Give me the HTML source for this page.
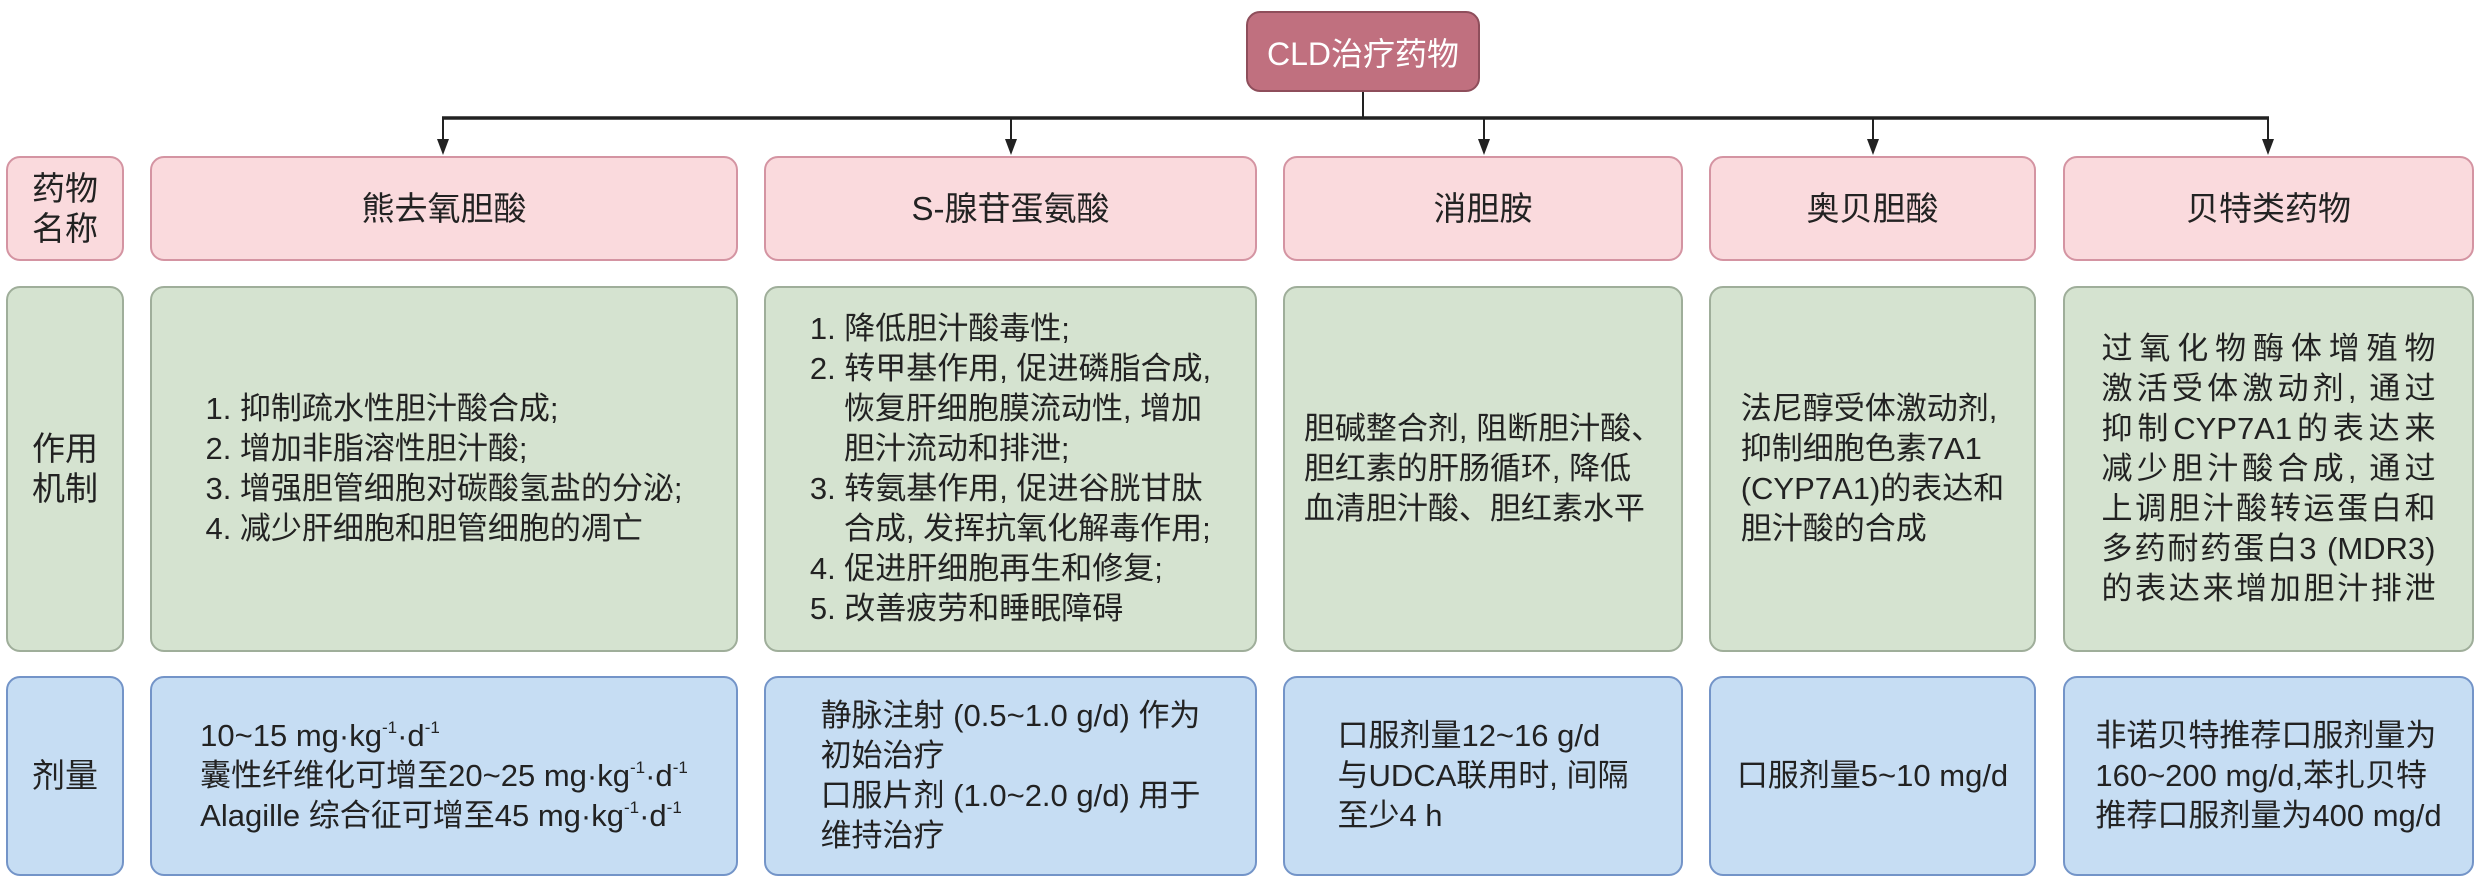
<!DOCTYPE html>
<html><head><meta charset="utf-8"><style>
body{margin:0;width:2481px;height:886px;background:#fff;position:relative;overflow:hidden;font-family:"Liberation Sans","Noto Sans CJK SC",sans-serif;color:#222;}
.b{position:absolute;box-sizing:border-box;border-radius:14px;border:2px solid;display:flex;align-items:center;justify-content:center;}
.p{background:#fadadd;border-color:#d494a2;}
.g{background:#d5e3d0;border-color:#9fae9a;}
.u{background:#c6ddf3;border-color:#7394c8;}
.t{font-size:31px;line-height:40px;white-space:nowrap;text-align:left;}
.c{font-size:33px;text-align:center;line-height:40px;}
.h{padding-left:34px;text-indent:-34px;}
sup{font-size:17px;line-height:0;vertical-align:13px;}
.j div{text-align:justify;text-align-last:justify;}
</style></head><body>
<svg style="position:absolute;left:0;top:0" width="2481" height="886">
<line x1="1363" y1="92" x2="1363" y2="119" stroke="#222" stroke-width="2"/>
<line x1="442" y1="118" x2="2269" y2="118" stroke="#222" stroke-width="3.5"/>
<g stroke="#222" stroke-width="2">
<line x1="443" y1="118" x2="443" y2="142"/><line x1="1011" y1="118" x2="1011" y2="142"/><line x1="1484" y1="118" x2="1484" y2="142"/><line x1="1873" y1="118" x2="1873" y2="142"/><line x1="2268" y1="118" x2="2268" y2="142"/></g>
<g fill="#222">
<polygon points="437,139 449,139 443,155"/><polygon points="1005,139 1017,139 1011,155"/><polygon points="1478,139 1490,139 1484,155"/><polygon points="1867,139 1879,139 1873,155"/><polygon points="2262,139 2274,139 2268,155"/></g>
</svg>
<div class="b" style="left:1246px;top:11px;width:234px;height:81px;background:#c0707f;border-color:#8e4e5b;color:#fff;font-size:32px;">CLD治疗药物</div>

<div class="b p c" style="left:6px;top:156px;width:118px;height:105px;">药物<br>名称</div>
<div class="b p c" style="left:150px;top:156px;width:588px;height:105px;">熊去氧胆酸</div>
<div class="b p c" style="left:764px;top:156px;width:493px;height:105px;">S-腺苷蛋氨酸</div>
<div class="b p c" style="left:1283px;top:156px;width:400px;height:105px;">消胆胺</div>
<div class="b p c" style="left:1709px;top:156px;width:327px;height:105px;">奥贝胆酸</div>
<div class="b p c" style="left:2063px;top:156px;width:411px;height:105px;">贝特类药物</div>

<div class="b g c" style="left:6px;top:286px;width:118px;height:366px;">作用<br>机制</div>
<div class="b g" style="left:150px;top:286px;width:588px;height:366px;"><div class="t">1. 抑制疏水性胆汁酸合成;<br>2. 增加非脂溶性胆汁酸;<br>3. 增强胆管细胞对碳酸氢盐的分泌;<br>4. 减少肝细胞和胆管细胞的凋亡</div></div>
<div class="b g" style="left:764px;top:286px;width:493px;height:366px;"><div class="t">
<div class="h">1. 降低胆汁酸毒性;</div><div class="h">2. 转甲基作用, 促进磷脂合成,<br>恢复肝细胞膜流动性, 增加<br>胆汁流动和排泄;</div><div class="h">3. 转氨基作用, 促进谷胱甘肽<br>合成, 发挥抗氧化解毒作用;</div><div class="h">4. 促进肝细胞再生和修复;</div><div class="h">5. 改善疲劳和睡眠障碍</div></div></div>
<div class="b g" style="left:1283px;top:286px;width:400px;height:366px;"><div class="t">胆碱整合剂, 阻断胆汁酸、<br>胆红素的肝肠循环, 降低<br>血清胆汁酸、胆红素水平</div></div>
<div class="b g" style="left:1709px;top:286px;width:327px;height:366px;"><div class="t">法尼醇受体激动剂,<br>抑制细胞色素7A1<br>(CYP7A1)的表达和<br>胆汁酸的合成</div></div>
<div class="b g" style="left:2063px;top:286px;width:411px;height:366px;"><div class="t j" style="width:334px;"><div>过氧化物酶体增殖物</div><div>激活受体激动剂, 通过</div><div>抑制CYP7A1的表达来</div><div>减少胆汁酸合成, 通过</div><div>上调胆汁酸转运蛋白和</div><div>多药耐药蛋白3 (MDR3)</div><div>的表达来增加胆汁排泄</div></div></div>

<div class="b u c" style="left:6px;top:676px;width:118px;height:200px;">剂量</div>
<div class="b u" style="left:150px;top:676px;width:588px;height:200px;"><div class="t">10~15 mg·kg<sup>-1</sup>·d<sup>-1</sup><br>囊性纤维化可增至20~25 mg·kg<sup>-1</sup>·d<sup>-1</sup><br>Alagille 综合征可增至45 mg·kg<sup>-1</sup>·d<sup>-1</sup></div></div>
<div class="b u" style="left:764px;top:676px;width:493px;height:200px;"><div class="t">静脉注射 (0.5~1.0 g/d) 作为<br>初始治疗<br>口服片剂 (1.0~2.0 g/d) 用于<br>维持治疗</div></div>
<div class="b u" style="left:1283px;top:676px;width:400px;height:200px;"><div class="t">口服剂量12~16 g/d<br>与UDCA联用时, 间隔<br>至少4 h</div></div>
<div class="b u" style="left:1709px;top:676px;width:327px;height:200px;"><div class="t">口服剂量5~10 mg/d</div></div>
<div class="b u" style="left:2063px;top:676px;width:411px;height:200px;"><div class="t">非诺贝特推荐口服剂量为<br>160~200 mg/d,苯扎贝特<br>推荐口服剂量为400 mg/d</div></div>
</body></html>
